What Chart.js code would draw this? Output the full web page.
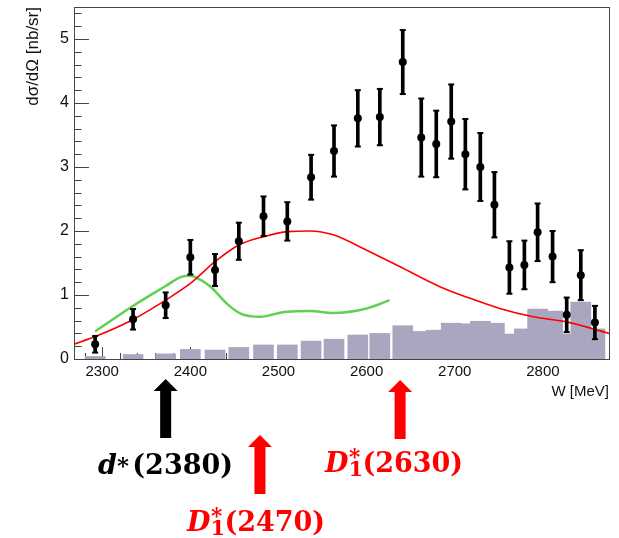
<!DOCTYPE html>
<html lang="en">
<head>
<meta charset="UTF-8">
<title>dσ/dΩ vs W</title>
<script src="https://cdn.jsdelivr.net/npm/chart.js"></script>
<style>
  body { margin: 0; background: #fff; }
  #wrap { position: relative; width: 619px; height: 538px; overflow: hidden; }
  .lab { position: absolute; font-family: "DejaVu Serif", serif; font-weight: bold; font-size: 27px; line-height: 1; white-space: nowrap; }
  .lab i { font-style: italic; }
  .star { font-size: 0.85em; vertical-align: 1px; margin-right: 0.15em; }
  .ss { display: inline-block; position: relative; width: 0.52em; height: 1em; }
  .ss .sup { position: absolute; left: 0.03em; top: 0.06em; font-size: 0.8em; line-height: 1; }
  .ss .sub { position: absolute; left: 0; top: 0.64em; font-size: 0.78em; line-height: 1; }
</style>
</head>
<body>
<div id="wrap">
  <canvas id="xsecChart"></canvas>
  <div class="lab" style="left:98px; top:451px; color:#000"><i>d</i><span class="star">*</span>(2380)</div>
  <div class="lab" style="left:187px; top:504px; color:#f00"><i>D</i><span class="ss"><span class="sup">*</span><span class="sub">1</span></span>(2470)</div>
  <div class="lab" style="left:325px; top:445px; color:#f00"><i>D</i><span class="ss"><span class="sup">*</span><span class="sub">1</span></span>(2630)</div>
</div>

<script>
// measured points
const wValues = [2292, 2335, 2372, 2400, 2428, 2455, 2483, 2510, 2537, 2563, 2590, 2615, 2641,
                 2662, 2679, 2696, 2712, 2729, 2745, 2762, 2779, 2794, 2811, 2827, 2843, 2859];
const xsec = [0.23, 0.62, 0.84, 1.59, 1.39, 1.84, 2.23, 2.15, 2.84, 3.25, 3.76, 3.78, 4.64,
              3.46, 3.36, 3.71, 3.20, 3.00, 2.41, 1.43, 1.47, 1.98, 1.60, 0.69, 1.31, 0.57];
const xsecErr = [0.13, 0.16, 0.20, 0.27, 0.25, 0.29, 0.31, 0.30, 0.35, 0.40, 0.44, 0.44, 0.50,
                 0.61, 0.52, 0.58, 0.55, 0.53, 0.51, 0.41, 0.38, 0.45, 0.40, 0.27, 0.39, 0.26];
// grey histogram (one bin per point)
const bgHist = [0.04, 0.07, 0.08, 0.15, 0.14, 0.18, 0.22, 0.22, 0.28, 0.31, 0.375, 0.40, 0.52,
                0.43, 0.45, 0.56, 0.55, 0.59, 0.56, 0.39, 0.47, 0.78, 0.75, 0.39, 0.89, 0.47];

// red model curve
const redW = [2268, 2292, 2334, 2372, 2400, 2428, 2455, 2483, 2510, 2536, 2562, 2600, 2638,
              2683, 2713, 2751, 2789, 2827, 2875];
const redY = [0.23, 0.35, 0.61, 0.92, 1.18, 1.52, 1.78, 1.91, 1.99, 2.00, 1.94, 1.70, 1.44,
              1.13, 0.97, 0.79, 0.66, 0.58, 0.40];

// green curve
const greenW = [2292, 2334, 2372, 2389, 2400, 2411, 2423, 2441, 2457, 2479, 2509, 2536, 2562, 2600, 2626];
const greenY = [0.43, 0.82, 1.14, 1.28, 1.30, 1.24, 1.13, 0.87, 0.71, 0.66, 0.74, 0.75, 0.72, 0.79, 0.92];

const xTicks = [2300, 2400, 2500, 2600, 2700, 2800];
const yTicks = [0, 1, 2, 3, 4, 5];
const arrowW = [2372, 2479, 2638];

const xRange = [2268, 2875];
const yRange = [0, 5.5];

const pts = wValues.map((w, i) => ({x: w, y: xsec[i]}));
const errBars = wValues.map((w, i) => ({x: w, y: [xsec[i] - xsecErr[i], xsec[i] + xsecErr[i]]}));
const errCaps = wValues.flatMap((w, i) => [{x: w, y: xsec[i] - xsecErr[i]}, {x: w, y: xsec[i] + xsecErr[i]}]);
const hist = wValues.map((w, i) => ({x: w, y: bgHist[i]}));
const red = redW.map((w, i) => ({x: w, y: redY[i]}));
const green = greenW.map((w, i) => ({x: w, y: greenY[i]}));

const axisCol = '#444';

// ROOT-like frame with ticks drawn inside
const frameTicks = {
    id: 'frameTicks',
    beforeDatasetsDraw(chart) {
        const {ctx, chartArea: a, scales: {x, y}} = chart;
        ctx.save();
        ctx.strokeStyle = axisCol;
        ctx.lineWidth = 1;
        ctx.beginPath();
        for (let v = Math.ceil(xRange[0] / 20) * 20; v <= xRange[1]; v += 20) {
            const px = Math.round(x.getPixelForValue(v)) + 0.5;
            const len = v % 100 === 0 ? 12 : 6;
            ctx.moveTo(px, a.bottom);
            ctx.lineTo(px, a.bottom - len);
        }
        for (let i = 0; i * 0.2 <= yRange[1] + 1e-9; i++) {
            const py = Math.round(y.getPixelForValue(i * 0.2)) + 0.5;
            const len = i % 5 === 0 ? 15 : 7.5;
            ctx.moveTo(a.left, py);
            ctx.lineTo(a.left + len, py);
        }
        ctx.stroke();
        ctx.restore();
    },
    afterDraw(chart) {
        const {ctx, chartArea: a, scales: {x}} = chart;
        ctx.save();
        ctx.strokeStyle = axisCol;
        ctx.lineWidth = 1;
        ctx.strokeRect(Math.round(a.left) + 0.5, Math.round(a.top) + 0.5,
                       Math.round(a.right - a.left), Math.round(a.bottom - a.top));
        // resonance arrows below the axis
        const arrowY = [[379, 438], [435, 494], [380, 439]];
        const arrowCol = ['#000', '#f00', '#f00'];
        arrowW.forEach((w, i) => {
            const cx = x.getPixelForValue(w);
            const [tip, end] = arrowY[i];
            ctx.fillStyle = arrowCol[i];
            ctx.beginPath();
            ctx.moveTo(cx, tip);
            ctx.lineTo(cx + 12, tip + 12);
            ctx.lineTo(cx + 5.5, tip + 12);
            ctx.lineTo(cx + 5.5, end);
            ctx.lineTo(cx - 5.5, end);
            ctx.lineTo(cx - 5.5, tip + 12);
            ctx.lineTo(cx - 12, tip + 12);
            ctx.closePath();
            ctx.fill();
        });
        ctx.restore();
    }
};

const font = {family: '"Liberation Sans", Arial, sans-serif', size: 15};

new Chart(document.getElementById('xsecChart'), {
    type: 'bar',
    data: {
        datasets: [
            {
                type: 'scatter',
                data: pts,
                pointRadius: 4,
                pointBackgroundColor: '#000',
                pointBorderWidth: 0,
                order: 0
            },
            {
                type: 'scatter',
                data: errCaps,
                pointStyle: 'line',
                pointRadius: 3,
                pointBorderColor: '#000',
                pointBorderWidth: 2,
                order: 1
            },
            {
                type: 'bar',
                data: errBars,
                backgroundColor: '#000',
                barThickness: 3,
                grouped: false,
                order: 2
            },
            {
                type: 'line',
                data: red,
                borderColor: 'rgb(255,0,0)',
                borderWidth: 1.6,
                pointRadius: 0,
                cubicInterpolationMode: 'monotone',
                order: 3
            },
            {
                type: 'line',
                data: green,
                borderColor: 'rgb(95,208,80)',
                borderWidth: 2.5,
                pointRadius: 0,
                cubicInterpolationMode: 'monotone',
                order: 4
            },
            {
                type: 'bar',
                data: hist,
                backgroundColor: 'rgb(169,166,192)',
                barThickness: 20,
                grouped: false,
                order: 5
            }
        ]
    },
    options: {
        responsive: true,
        maintainAspectRatio: false,
        animation: false,
        layout: {padding: {left: 0, top: 7, right: 10, bottom: 135}},
        plugins: {legend: {display: false}, tooltip: {enabled: false}},
        scales: {
            x: {
                type: 'linear',
                min: xRange[0],
                max: xRange[1],
                offset: false,
                grid: {display: false, drawTicks: false},
                border: {display: false},
                afterBuildTicks: s => { s.ticks = xTicks.map(v => ({value: v})); },
                afterFit: s => { s.height = 44; s.paddingLeft = 0; s.paddingRight = 0; },
                ticks: {font: font, color: '#111', padding: 4, maxRotation: 0, callback: v => String(v)},
                title: {display: true, text: 'W [MeV]', align: 'end', font: font, color: '#111',
                        padding: {top: 0, bottom: 2}}
            },
            y: {
                min: yRange[0],
                max: yRange[1],
                grid: {display: false, drawTicks: false},
                border: {display: false},
                afterBuildTicks: s => { s.ticks = yTicks.map(v => ({value: v})); },
                afterFit: s => { s.width = 74; s.paddingTop = 0; s.paddingBottom = 0; },
                ticks: {font: {family: font.family, size: 16}, color: '#111', padding: 5},
                title: {display: true, text: 'dσ/dΩ [nb/sr]', align: 'end',
                        font: {family: font.family, size: 17}, color: '#111',
                        padding: {top: 23, bottom: 0}}
            }
        }
    },
    plugins: [frameTicks]
});
</script>
</body>
</html>
